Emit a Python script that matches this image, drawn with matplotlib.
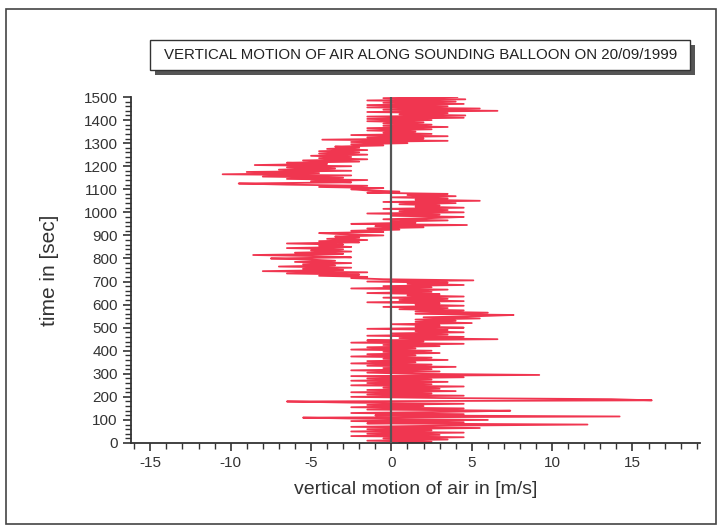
import numpy as np
import matplotlib.pyplot as plt
from matplotlib.ticker import MultipleLocator
from matplotlib.patches import Rectangle

# vertical motion of air [m/s], read every 5 s from t = 0 to 1500 s
w_0000 = [0.5, 2.5, -1.5, 3.5, -0.5, 4.5, -2.5, 3.0, -1.5, 4.5, -2.5, 2.5, -1.5, 5.5, -2.5, 3.0, 12.2, -1.5, 4.5, -2.5]
w_0100 = [6.0, -1.5, -5.5, 14.2, -1.0, 4.5, -2.5, 3.5, 7.4, -1.5, 4.5, -2.5, 2.0, -1.5, 4.5, -2.5, -6.5, 16.2, 13.7, 3.0]
w_0200 = [-2.5, 4.5, -1.5, 2.5, -2.5, 4.0, -1.5, 3.0, -0.5, 4.5, -2.5, 2.5, -1.5, 3.5, -2.5, 2.5, -1.5, 4.5, -2.5, 9.2]
w_0300 = [1.5, -1.5, 3.0, -2.5, 2.5, -0.5, 4.0, -1.5, 2.5, -2.5, 1.5, -1.5, 3.5, -0.5, 2.5, -2.5, 1.5, -1.5, 3.0, -0.5]
w_0400 = [2.5, -2.5, 1.5, -1.5, 3.0, -0.5, 4.5, -2.5, 2.0, -1.5, 6.6, 0.5, 4.5, -1.5, 3.5, 0.0, 4.5, 1.5, 3.5, -1.5]
w_0500 = [4.5, 1.5, 3.0, 0.0, 5.0, 1.5, 4.0, 1.5, 5.5, 2.0, 5.5, 7.6, 1.5, 6.0, 1.5, 4.5, 0.5, 3.5, -0.5, 4.5]
w_0600 = [1.5, 3.0, -1.5, 4.5, 0.5, 3.5, -0.5, 4.5, 1.0, 3.0, -1.5, 2.5, 0.0, 3.5, -2.5, 2.5, -0.5, 4.5, 1.0, 3.5]
w_0700 = [-1.5, 5.1, -0.5, -2.5, -1.5, -4.5, -2.0, -6.5, -1.5, -8.0, -3.0, -5.5, -2.5, -7.0, -3.5, -5.5, -2.5, -6.0, -3.5, -5.0]
w_0800 = [-7.5, -2.5, -4.5, -8.6, -3.0, -6.0, -2.5, -5.0, -3.0, -6.5, -2.5, -4.5, -3.0, -6.5, -2.0, -4.5, -1.5, -4.0, -2.0, -3.5]
w_0900 = [-0.5, -3.0, -4.5, -0.5, -2.5, 0.5, -1.5, 2.0, -1.0, 4.7, -2.5, 1.5, 0.0, 3.5, -0.5, 2.5, 4.5, 0.0, 3.0, -1.5]
w_1000 = [4.5, 0.5, 3.5, -0.5, 4.5, 1.5, 3.0, 0.5, 4.0, -0.5, 5.5, 1.5, 3.5, 0.0, 4.0, 1.0, 3.5, -1.5, 0.5, -1.5]
w_1100 = [-2.5, -0.5, -4.5, -1.5, -6.5, -9.5, -2.5, -5.0, -1.5, -6.5, -3.0, -8.0, -2.5, -10.5, -4.5, -9.0, -2.5, -7.0, -3.5, -6.5]
w_1200 = [-2.5, -8.5, -4.0, -6.5, -2.0, -5.5, -1.5, -4.5, -2.5, -5.0, -1.5, -4.5, -2.0, -4.5, -1.5, -4.0, -2.0, -3.5, -0.5, -2.5]
w_1300 = [1.0, -2.5, 3.5, -4.3, 2.0, -1.5, 3.5, -2.5, 2.5, -0.5, 1.5, -1.5, 2.5, -1.5, 3.5, -0.5, 2.5, -0.5, 2.0, -1.5]
w_1400 = [2.5, -1.5, 4.5, -1.5, 4.6, 0.5, 3.5, -1.5, 6.6, -0.5, 5.5, -1.5, 3.5, -1.5, 4.5, -0.5, 4.0, -1.5, 4.6, -0.5]
w_1500 = [4.1]

w = (w_0000 + w_0100 + w_0200 + w_0300 + w_0400 + w_0500 + w_0600 + w_0700
     + w_0800 + w_0900 + w_1000 + w_1100 + w_1200 + w_1300 + w_1400 + w_1500)
t = np.arange(len(w)) * 5

plt.rcParams['font.family'] = ['Liberation Sans', 'DejaVu Sans']
plt.rcParams['axes.unicode_minus'] = False

fig = plt.figure(figsize=(7.19, 5.30), dpi=100)
W, H = 719, 530
ax = fig.add_axes([131 / W, 1 - 443 / H, (700 - 131) / W, (443 - 97) / H])

ax.plot(w, t, color='#f03650', lw=1.3)
ax.plot([0, 0], [0, 1500], color='#555555', lw=1.6, zorder=3)

ax.set_xlim(-16.2, 19.2)
ax.set_ylim(0, 1500)
ax.xaxis.set_major_locator(MultipleLocator(5))
ax.xaxis.set_minor_locator(MultipleLocator(1))
ax.yaxis.set_major_locator(MultipleLocator(100))
ax.yaxis.set_minor_locator(MultipleLocator(20))
ax.spines['top'].set_visible(False)
ax.spines['right'].set_visible(False)
for s in ['left', 'bottom']:
    ax.spines[s].set_linewidth(1.3)
    ax.spines[s].set_color('#333333')
ax.tick_params(which='major', length=6, width=1.2, labelsize=11, colors='#333333')
ax.tick_params(which='minor', length=4, width=1.0, colors='#333333')
ax.set_xlabel('vertical motion of air in [m/s]', fontsize=14, color='#333333', labelpad=8)
ax.set_ylabel('time in [sec]', fontsize=15, color='#333333', labelpad=18)

# outer frame
fig.patches.append(Rectangle((6 / W, 1 - 524 / H), (716 - 6) / W, (524 - 9) / H,
                             transform=fig.transFigure, fill=False, ec='#444444', lw=1.2))
# title box with shadow
fig.patches.append(Rectangle((155 / W, 1 - 75 / H), 540 / W, 30 / H,
                             transform=fig.transFigure, fc='#555555', ec='none'))
fig.patches.append(Rectangle((150 / W, 1 - 70 / H), 540 / W, 30 / H,
                             transform=fig.transFigure, fc='white', ec='#333333', lw=1.0))
fig.text(421 / W, 1 - 55 / H, 'VERTICAL MOTION OF AIR ALONG SOUNDING BALLOON ON 20/09/1999',
         ha='center', va='center', fontsize=10.8, color='#222222')

fig.savefig('out.png', dpi=100)
